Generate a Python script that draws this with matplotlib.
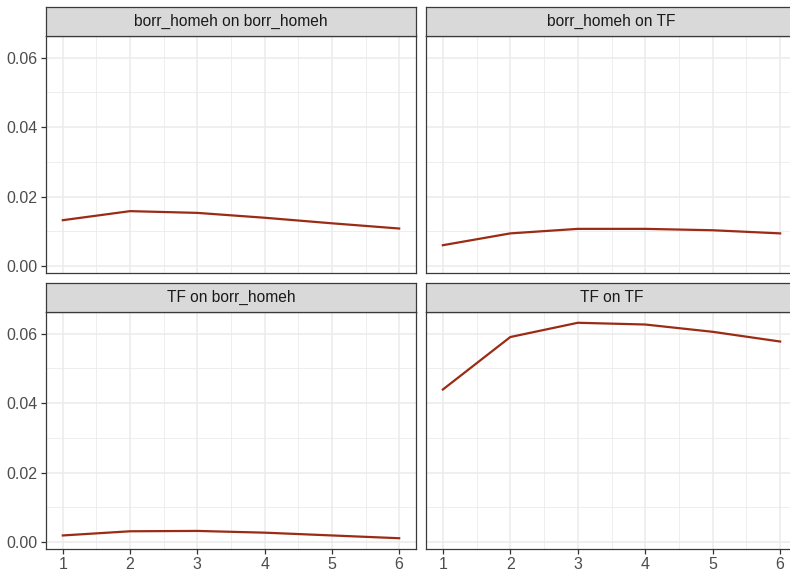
import numpy as np
import matplotlib.pyplot as plt
from matplotlib.ticker import MultipleLocator

plt.rcParams['font.family'] = ['Liberation Sans', 'DejaVu Sans']

horizon = [1, 2, 3, 4, 5, 6]
titles = ["borr_homeh on borr_homeh", "borr_homeh on TF",
          "TF on borr_homeh", "TF on TF"]
irf_bb = [0.0132, 0.0158, 0.0153, 0.0139, 0.0123, 0.0108]
irf_bt = [0.0060, 0.0094, 0.0107, 0.0107, 0.0103, 0.0094]
irf_tb = [0.0019, 0.0031, 0.0032, 0.0027, 0.0019, 0.0011]
irf_tt = [0.0439, 0.0590, 0.0631, 0.0626, 0.0605, 0.0577]
series = [irf_bb, irf_bt, irf_tb, irf_tt]

line_col = "#9B2B15"
W, H = 790, 571

# panel boxes in pixels: (left, right, top, bottom)
cols = [(46, 416), (426, 797)]
rows = [(36, 273), (312, 549)]
strip_h = 29

allv = np.concatenate(series)
span = allv.max() - allv.min()
ylo, yhi = allv.min() - 0.05 * span, allv.max() + 0.05 * span
xlo, xhi = 1 - 0.05 * 5, 6 + 0.05 * 5

fig = plt.figure(figsize=(W / 100, H / 100), dpi=100)

for i, (title, vals) in enumerate(zip(titles, series)):
    r, c = divmod(i, 2)
    x0, x1 = cols[c]
    y0, y1 = rows[r]
    ax = fig.add_axes([x0 / W, 1 - y1 / H, (x1 - x0) / W, (y1 - y0) / H])
    ax.plot(horizon, vals, color=line_col, lw=1.6, zorder=3)
    ax.set_xlim(xlo, xhi)
    ax.set_ylim(ylo, yhi)
    ax.set_xticks(horizon)
    ax.xaxis.set_minor_locator(MultipleLocator(0.5))
    ax.set_yticks([0, 0.02, 0.04, 0.06])
    ax.yaxis.set_minor_locator(MultipleLocator(0.01))
    ax.set_yticklabels(["0.00", "0.02", "0.04", "0.06"])
    ax.grid(which="major", color="#EBEBEB", lw=1.1, zorder=0)
    ax.grid(which="minor", color="#EBEBEB", lw=0.6, zorder=0)
    ax.set_axisbelow(True)
    for sp in ax.spines.values():
        sp.set_color("#3A3A3A")
        sp.set_linewidth(0.9)
    ax.tick_params(which="major", length=3.5, width=0.9, color="#333333",
                   labelcolor="#4D4D4D", labelsize=11.5, pad=2.5)
    ax.tick_params(which="minor", length=0)
    if r == 0:
        ax.tick_params(axis="x", which="major", bottom=False, labelbottom=False)
    if c == 1:
        ax.tick_params(axis="y", which="major", left=False, labelleft=False)

    # facet strip
    sax = fig.add_axes([x0 / W, 1 - y0 / H, (x1 - x0) / W, strip_h / H])
    sax.set_facecolor("#D9D9D9")
    sax.set_xticks([])
    sax.set_yticks([])
    for sp in sax.spines.values():
        sp.set_color("#3A3A3A")
        sp.set_linewidth(0.9)
    sax.text(0.5, 0.5, title, ha="center", va="center", fontsize=11.2,
             color="#1A1A1A", transform=sax.transAxes)

fig.savefig("out.png", dpi=100)
